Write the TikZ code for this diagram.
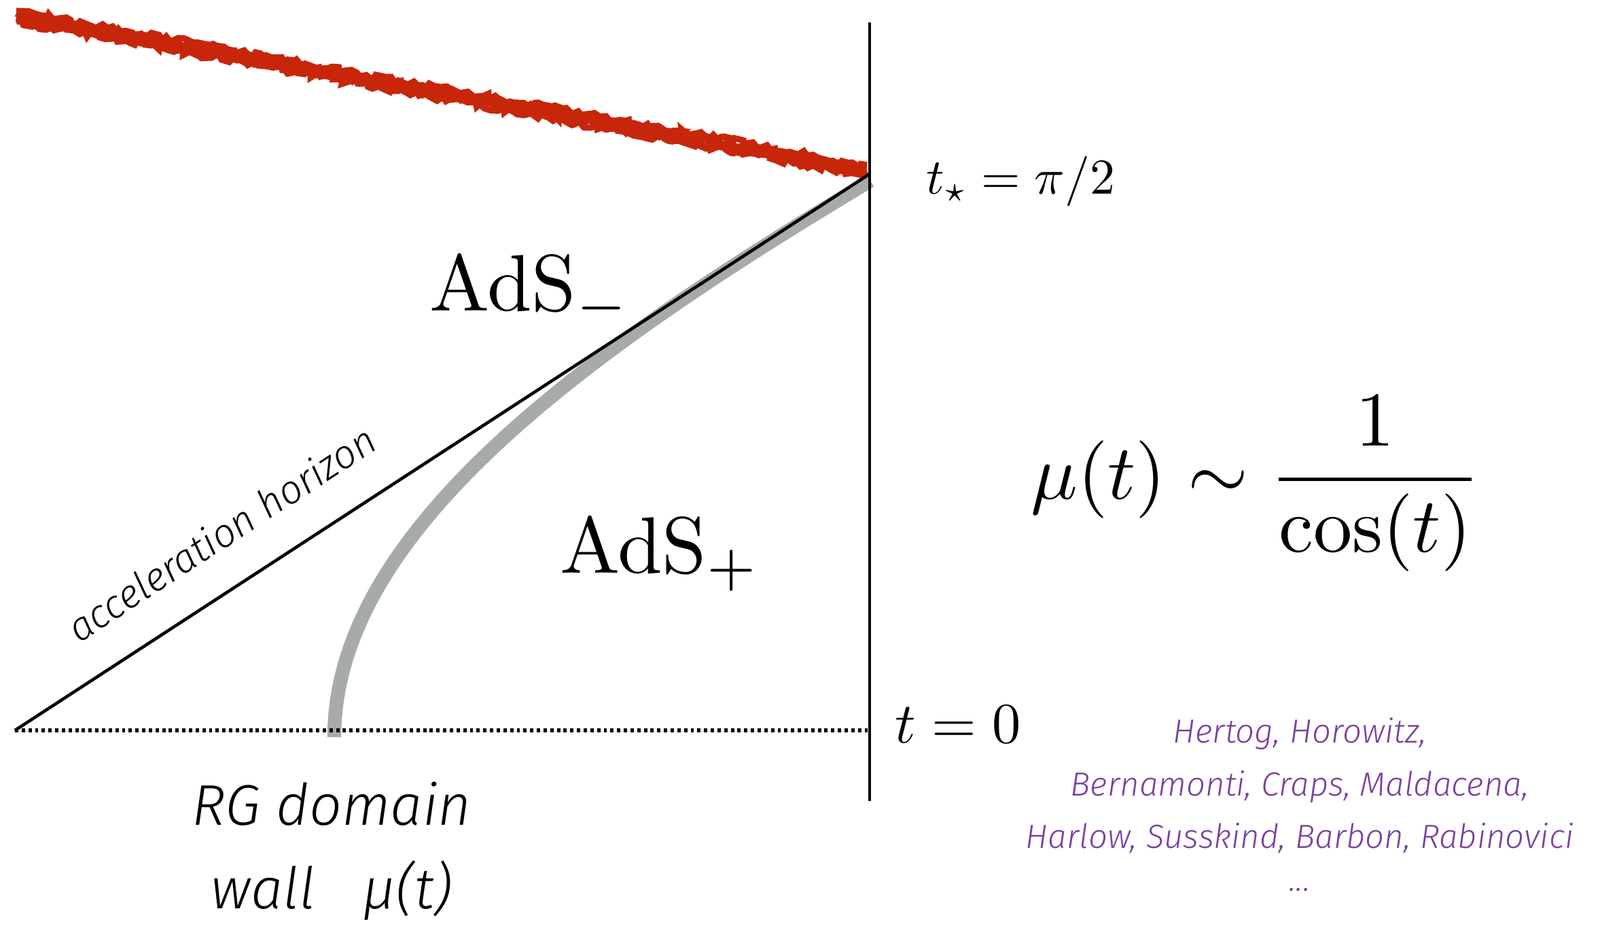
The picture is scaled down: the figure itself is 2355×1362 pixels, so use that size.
\documentclass[tikz,border=0pt]{standalone}
\usepackage{fontspec}
\usetikzlibrary{decorations.pathmorphing}
\newfontfamily\handfont{Fira Sans Light Italic}
\definecolor{crayon}{RGB}{200,38,10}
\definecolor{wallgray}{RGB}{166,170,168}
\definecolor{citepurple}{RGB}{124,64,160}
\begin{document}
\begin{tikzpicture}[x=0.01cm, y=-0.01cm,
  bigmath/.style={scale=3.35, inner sep=0, anchor=base west},
  hand/.style={font=\handfont\fontsize{24}{35}\selectfont, align=center, inner sep=0},
  cite/.style={font=\handfont\fontsize{14}{22}\selectfont, text=citepurple, align=center, inner sep=0},
  crayonline/.style={crayon, line width=2.6pt, decorate,
    decoration={random steps, segment length=2pt, amplitude=1.3pt}}]
  \useasboundingbox (0,0) rectangle (2355,1362);
  \coordinate (origin) at (22,1075);
  \coordinate (tstar) at (1280,256);
  \coordinate (bdtop) at (1280,33);
  \coordinate (bdbot) at (1280,1179);
  \coordinate (zero) at (1280,1075);
  \coordinate (wallbot) at (492,1085);
  \coordinate (walltop) at (1281,266);
  \foreach \s in {-8,-4,0,4,8}
    \draw[crayonline] (24,24+\s) -- (1276,251+\s);
  \draw[wallgray, line width=5.8pt] (wallbot) .. controls (492,779) and (870,512) .. (walltop);
  \draw[line width=1.5pt, dash pattern=on 1.4pt off 1.4pt] (origin) -- (zero);
  \draw[line width=1.3pt] (origin) -- (tstar)
    node[pos=0.275, sloped, above=15pt, hand, font=\handfont\fontsize{16.6}{20}\selectfont] (horizonlabel) {acceleration horizon};
  \draw[line width=1.3pt] (bdtop) -- (bdbot);
  \node[bigmath] (adsminus) at (630,457) {AdS$_-$};
  \node[bigmath] (adsplus) at (822,843) {AdS$_+$};
  \node[bigmath, scale=2.1/3.35] (tstarlabel) at (1362,285) {$t_\star=\pi/2$};
  \node[bigmath, scale=2.4/3.35] (tzero) at (1316,1093) {$t=0$};
  \node[anchor=west, inner sep=0, scale=3.25] (mulaw) at (1515,712) {$\displaystyle\mu(t)\sim\frac{1}{\cos(t)}$};
  \node[hand, anchor=north] (rgwall) at (488,1150) {RG domain\\wall~~~μ(t)};
  \node[cite, anchor=north] (refs) at (1913,1056) {Hertog, Horowitz,\\Bernamonti, Craps, Maldacena,\\Harlow, Susskind, Barbon, Rabinovici\\[-4pt]...};
\end{tikzpicture}
\end{document}
